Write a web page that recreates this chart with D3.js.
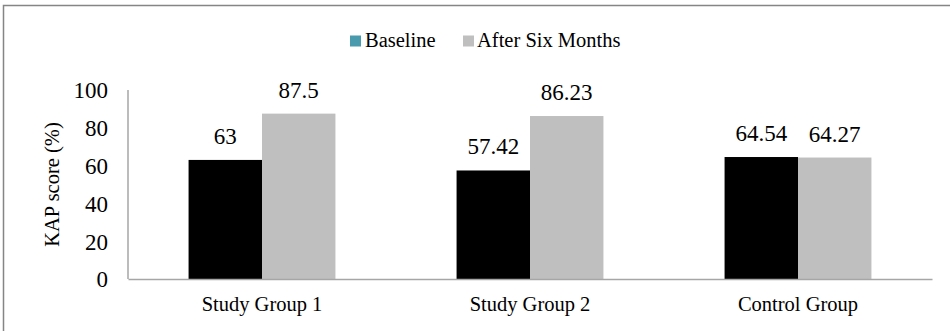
<!DOCTYPE html>
<html>
<head>
<meta charset="utf-8">
<script src="https://cdn.jsdelivr.net/npm/d3@7"></script>
<style>
  html, body { margin: 0; padding: 0; background: #fff; }
  svg { display: block; }
  text { font-family: "Liberation Serif", "Times New Roman", serif; fill: #000; }
</style>
</head>
<body>
<svg id="chart" width="950" height="331"></svg>
<script>
// KAP scores per group, at baseline and after six months
const groups = ["Study Group 1", "Study Group 2", "Control Group"];
const seriesNames = ["Baseline", "After Six Months"];
const baseline = [63, 57.42, 64.54];
const afterSix = [87.5, 86.23, 64.27];
const valueLabels = [["63", "57.42", "64.54"], ["87.5", "86.23", "64.27"]];
const yTicks = [0, 20, 40, 60, 80, 100];

const barColors = ["#000000", "#bfbfbf"];
const legendColors = ["#4a9aad", "#bfbfbf"];

const svg = d3.select("#chart");

// outer frame (right and bottom edges fall outside the view)
svg.append("rect")
  .attr("x", 3.5).attr("y", 5.5)
  .attr("width", 960).attr("height", 340)
  .attr("fill", "none").attr("stroke", "#858585").attr("stroke-width", 1.5);

const plot = { left: 128, right: 932, top: 90, bottom: 279 };

const x0 = d3.scaleBand().domain(groups)
  .range([plot.left, plot.right]).paddingInner(0).paddingOuter(0);
const groupWidth = x0.bandwidth();
const barW = groupWidth * 0.274;
const x1 = d3.scaleBand().domain(seriesNames)
  .range([groupWidth / 2 - barW, groupWidth / 2 + barW]).padding(0);

const y = d3.scaleLinear().domain([0, 100]).range([plot.bottom, plot.top]);

// y tick labels
const yAxis = d3.axisLeft(y).tickValues(yTicks).tickSize(0).tickPadding(20);
const gy = svg.append("g").attr("transform", `translate(${plot.left},0)`).call(yAxis);
gy.select(".domain").remove();
gy.selectAll("text")
  .style("font-family", '"Liberation Serif", "Times New Roman", serif')
  .style("font-size", "23px").attr("fill", "#000").attr("dy", "0.34em");

// bars
const data = groups.map((g, i) => ({ group: g, values: [baseline[i], afterSix[i]] }));
const gGroups = svg.selectAll(".grp").data(data).join("g")
  .attr("class", "grp")
  .attr("transform", d => `translate(${x0(d.group)},0)`);

gGroups.selectAll("rect").data(d => d.values.map((v, s) => ({ v, s })))
  .join("rect")
  .attr("x", d => x1(seriesNames[d.s]))
  .attr("y", d => y(d.v))
  .attr("width", x1.bandwidth())
  .attr("height", d => y(0) - y(d.v))
  .attr("fill", d => barColors[d.s]);

// value labels
gGroups.each(function(d, gi) {
  d3.select(this).selectAll("text.val").data(d.values.map((v, s) => ({ v, s })))
    .join("text")
    .attr("class", "val")
    .attr("x", e => x1(seriesNames[e.s]) + x1.bandwidth() / 2)
    .attr("y", e => y(e.v) - 16)
    .attr("text-anchor", "middle")
    .style("font-size", "23px")
    .text(e => valueLabels[e.s][gi]);
});

// axis lines
svg.append("line")
  .attr("x1", plot.left).attr("x2", plot.left)
  .attr("y1", plot.top).attr("y2", plot.bottom)
  .attr("stroke", "#a6a6a6").attr("stroke-width", 1.5);
const xAxis = d3.axisBottom(x0).tickSize(0).tickPadding(0);
const gx = svg.append("g").attr("transform", `translate(0,${plot.bottom})`).call(xAxis);
gx.select(".domain").attr("stroke", "#a6a6a6").attr("stroke-width", 1.5);
gx.selectAll("text")
  .style("font-family", '"Liberation Serif", "Times New Roman", serif')
  .style("font-size", "20.5px").attr("fill", "#000")
  .attr("dy", null).attr("y", 32);

// y axis title
svg.append("text")
  .attr("transform", `translate(59,${(plot.top + plot.bottom) / 2}) rotate(-90)`)
  .attr("text-anchor", "middle")
  .style("font-size", "20.5px")
  .text("KAP score (%)");

// legend
const legendItems = [{ x: 350, tx: 365 }, { x: 463, tx: 477 }];
const lg = svg.append("g");
seriesNames.forEach((name, i) => {
  lg.append("rect")
    .attr("x", legendItems[i].x).attr("y", 35.5)
    .attr("width", 11).attr("height", 11)
    .attr("fill", legendColors[i]);
  lg.append("text")
    .attr("x", legendItems[i].tx).attr("y", 47)
    .style("font-size", "20.5px")
    .text(name);
});
</script>
</body>
</html>
